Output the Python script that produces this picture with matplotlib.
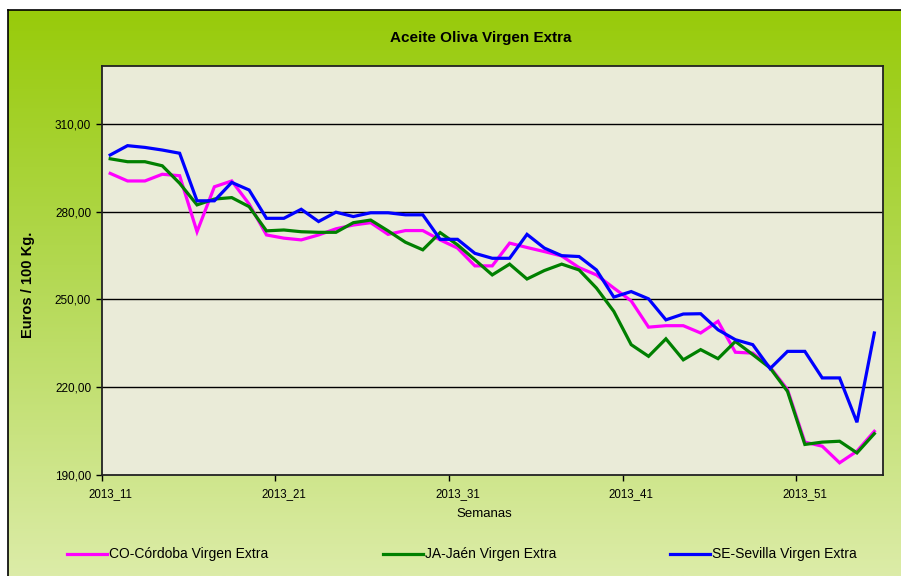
import numpy as np
import matplotlib
matplotlib.use("Agg")
import matplotlib.pyplot as plt
from matplotlib.lines import Line2D

plt.rcParams['font.family'] = ['Liberation Sans', 'DejaVu Sans']

weeks = [f"2013_{w}" for w in range(11, 53)] + [f"2014_{w:02d}" for w in range(1, 4)]

cordoba = [293.2, 290.6, 290.6, 292.9, 292.4, 273.2, 288.6, 290.6, 282.7, 272.1,
           271.0, 270.4, 272.1, 274.2, 275.5, 276.3, 272.3, 273.6, 273.6, 270.4,
           267.6, 261.5, 261.5, 269.3, 267.8, 266.4, 264.9, 260.9, 258.4, 253.9,
           249.5, 240.5, 241.0, 241.0, 238.5, 242.5, 231.9, 231.6, 226.8, 219.1,
           201.1, 199.7, 194.0, 198.0, 204.8]
jaen = [298.2, 297.2, 297.2, 295.8, 289.8, 282.4, 284.4, 284.9, 281.8, 273.5,
        273.8, 273.2, 273.0, 273.0, 276.3, 277.2, 273.5, 269.6, 267.0, 272.9,
        268.7, 263.6, 258.4, 262.1, 257.0, 259.9, 262.1, 260.1, 253.9, 245.9,
        234.5, 230.5, 236.5, 229.3, 232.8, 229.7, 235.6, 231.1, 226.5, 218.5,
        200.3, 201.1, 201.4, 197.4, 204.0]
sevilla = [299.5, 302.7, 302.1, 301.2, 300.1, 283.8, 283.8, 290.1, 287.5, 277.8,
           277.8, 280.9, 276.7, 279.9, 278.4, 279.7, 279.7, 279.0, 279.0, 270.6,
           270.6, 265.8, 264.1, 264.1, 272.3, 267.6, 265.0, 264.7, 260.1, 250.8,
           252.7, 250.2, 243.0, 245.0, 245.1, 239.6, 236.2, 234.5, 226.3, 232.2,
           232.2, 223.1, 223.1, 207.9, 238.5]

series = [("CO-Córdoba Virgen Extra", cordoba, "#FF00FF"),
          ("JA-Jaén Virgen Extra", jaen, "#008000"),
          ("SE-Sevilla Virgen Extra", sevilla, "#0000FF")]
yticks = [190, 220, 250, 280, 310]

W, H = 901, 576
fig = plt.figure(figsize=(W / 100, H / 100), dpi=100)
fig.patch.set_facecolor("white")

# gradient background of the chart area
bg = fig.add_axes([8 / W, 0, 1 - 8 / W, 1 - 10 / H])
top = np.array([152, 203, 10]) / 255
mid = np.array([178, 216, 80]) / 255
bot = np.array([220, 236, 168]) / 255
n = 300
t = np.linspace(0, 1, n)[:, None]
grad = np.where(t < 0.45, top + (mid - top) * (t / 0.45), mid + (bot - mid) * ((t - 0.45) / 0.55))
bg.imshow(grad[:, None, :].repeat(2, axis=1), aspect="auto", extent=[0, 1, 0, 1])
bg.set_xlim(0, 1); bg.set_ylim(0, 1)
bg.set_xticks([]); bg.set_yticks([])
for s in ["right", "bottom"]:
    bg.spines[s].set_visible(False)
for s in ["left", "top"]:
    bg.spines[s].set_linewidth(1.2)
    bg.spines[s].set_color("black")

L, R, T, B = 101.5, 883, 66, 474.5
ax = fig.add_axes([L / W, 1 - B / H, (R - L) / W, (B - T) / H])
ax.set_facecolor("#EAEBD8")
x = np.arange(len(weeks))
for name, vals, col in series:
    ax.plot(x, vals, color=col, lw=2.3, label=name, solid_joinstyle="miter")

ax.set_xlim(-0.5, len(weeks) - 0.5)
ax.set_ylim(190, 330)
ax.set_yticks(yticks)
ax.set_yticklabels([f"{v:.2f}".replace(".", ",") for v in yticks], fontsize=8.5)
for v in yticks[1:]:
    ax.axhline(v, color="black", lw=1.0, zorder=0.5)

ax.set_xticks(np.arange(-0.5, len(weeks), 10))
ax.set_xticklabels([])
ax.set_xticks(np.arange(0, len(weeks), 10), minor=True)
ax.set_xticklabels([weeks[i] for i in range(0, len(weeks), 10)], minor=True, fontsize=8.3)
ax.tick_params(axis="x", which="minor", length=0, pad=10)
ax.tick_params(axis="both", which="major", length=4, width=1, direction="out")
for s in ax.spines.values():
    s.set_linewidth(1.3)
    s.set_color("#222222")

fig.text(481 / W, 1 - 38 / H, "Aceite Oliva Virgen Extra", ha="center", va="center",
         fontsize=11, fontweight="bold")
fig.text(28 / W, 1 - 285 / H, "Euros / 100 Kg.", ha="center", va="center",
         rotation=90, fontsize=10.5, fontweight="bold")
fig.text(484 / W, 1 - 514 / H, "Semanas", ha="center", va="center", fontsize=9.5)

# legend entries
legx = [(67, 107), (383, 423), (670, 710)]
ly = 1 - 554 / H
for (x0, x1), (name, vals, col) in zip(legx, series):
    fig.add_artist(Line2D([x0 / W, x1 / W], [ly, ly], color=col, lw=2.3, transform=fig.transFigure))
    fig.text((x1 + 2) / W, ly, name, ha="left", va="center", fontsize=10)

fig.savefig("out.png", dpi=100)
